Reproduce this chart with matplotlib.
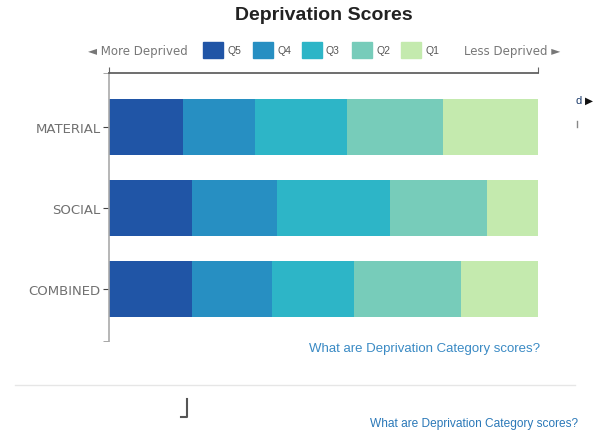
import numpy as np
import matplotlib.pyplot as plt
from matplotlib.patches import Rectangle
from matplotlib.lines import Line2D

plt.rcParams['font.family'] = ['Liberation Sans', 'DejaVu Sans']

categories = ["MATERIAL", "SOCIAL", "COMBINED"]
quintiles = ["Q5", "Q4", "Q3", "Q2", "Q1"]
# share of each quintile (percent)
q5 = [17.2, 19.3, 19.3]
q4 = [16.8, 19.8, 18.6]
q3 = [21.4, 26.3, 19.2]
q2 = [22.4, 22.6, 24.9]
q1 = [22.2, 12.0, 18.0]
colors = ["#2055a6", "#278fc2", "#2db5c7", "#77ccba", "#c4eaae"]

fig = plt.figure(figsize=(6.03, 4.31), dpi=100)
ax = fig.add_axes([109 / 603, 89 / 431, 429 / 603, 268 / 431])

y = np.arange(len(categories))
left = np.zeros(len(categories))
for vals, c in zip([q5, q4, q3, q2, q1], colors):
    ax.barh(y, vals, left=left, height=0.69, color=c)
    left += np.array(vals)

ax.set_xlim(0, 100)
ax.set_ylim(2.64, -0.67)
ax.set_yticks(y)
ax.set_yticklabels(categories, fontsize=9.5, color="#707070",
                   family=["DejaVu Sans"])
ax.tick_params(axis="y", length=4, color="#444444", pad=2)
ax.set_yticks([2.64, -0.67], minor=True)
ax.tick_params(axis="y", which="minor", length=4, color="#999999")

ax.xaxis.tick_top()
ax.set_xticks([0, 100])
ax.set_xticklabels([])
ax.tick_params(axis="x", length=4, color="#666666")

ax.spines["right"].set_visible(False)
ax.spines["bottom"].set_visible(False)
ax.spines["top"].set_color("#555555")
ax.spines["top"].set_linewidth(1.2)
ax.spines["left"].set_color("#aaaaaa")
ax.spines["left"].set_linewidth(1.2)

W, H = 603, 431


def fx(px):
    return px / W


def fy(py):
    return 1 - py / H


fig.text(fx(324), fy(16), "Deprivation Scores", ha="center", va="center",
         fontsize=14, fontweight="bold", color="#222222")

# legend row
fig.text(fx(88), fy(51), "\u25C4 More Deprived", ha="left", va="center",
         fontsize=8.5, color="#777777", family=["DejaVu Sans"])
sq_x = [203, 253, 302, 352, 401]
for sx, c, q in zip(sq_x, colors, quintiles):
    fig.add_artist(Rectangle((fx(sx), fy(59)), 20 / W, 16 / H,
                             transform=fig.transFigure, color=c))
    fig.text(fx(sx + 24), fy(51), q, ha="left", va="center",
             fontsize=7.5, color="#555555")
fig.text(fx(560), fy(51), "Less Deprived \u25BA", ha="right", va="center",
         fontsize=8.5, color="#777777", family=["DejaVu Sans"])

fig.text(fx(540), fy(349), "What are Deprivation Category scores?",
         ha="right", va="center", fontsize=9.5, color="#3a8ac4")

fig.text(fx(575), fy(101), "d", ha="left", va="center", fontsize=8,
         color="#1a3a6a")
fig.text(fx(585), fy(101), "\u25B6", ha="left", va="center", fontsize=7.5,
         color="#111111", family=["DejaVu Sans"])
fig.add_artist(Line2D([fx(577), fx(577)], [fy(122), fy(128)],
                      transform=fig.transFigure, color="#888888", lw=1))

fig.add_artist(Line2D([fx(15), fx(575)], [fy(386), fy(386)],
                      transform=fig.transFigure, color="#e6e6e6", lw=1))
fig.add_artist(Line2D([fx(181), fx(187), fx(187)], [fy(418), fy(418), fy(400)],
                      transform=fig.transFigure, color="#555555", lw=1.5))

fig.text(fx(578), fy(424), "What are Deprivation Category scores?",
         ha="right", va="center", fontsize=8.6, color="#2a78b8")

fig.savefig("out.png", dpi=100)
